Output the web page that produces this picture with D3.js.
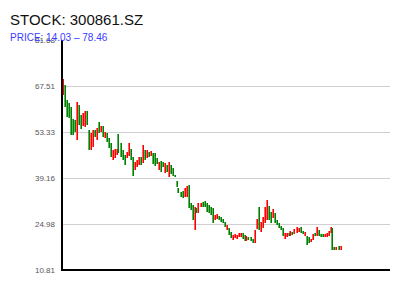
<!DOCTYPE html>
<html>
<head>
<meta charset="utf-8">
<script src="https://cdn.jsdelivr.net/npm/d3@7"></script>
<style>
  body { margin: 0; background: #fff; }
  svg { font-family: "Liberation Sans", Arial, sans-serif; }
</style>
</head>
<body>
<svg id="chart" width="400" height="300"></svg>
<script>
// daily candles (open / close)
var opens = [64.73, 67.81, 63.19, 62.27, 61.04, 57.34, 57.03, 50.87, 61.65, 58.57,
  55.18, 54.87, 59.80, 53.95, 47.79, 48.71, 53.95, 50.87, 56.41, 53.33,
  55.18, 51.48, 53.02, 51.48, 49.94, 44.70, 45.32, 46.24, 52.72, 49.94,
  47.79, 46.24, 45.32, 45.94, 48.09, 45.63, 41.62, 42.55, 43.16, 45.63,
  43.78, 47.79, 45.32, 47.17, 45.94, 46.86, 46.86, 45.32, 41.62, 44.40,
  44.09, 40.70, 43.16, 39.47, 43.16, 42.24, 40.08, 38.23, 36.08, 34.84,
  35.15, 33.30, 33.30, 37.00, 31.45, 30.84, 23.14, 29.91, 28.37, 30.22,
  31.76, 32.07, 31.45, 30.84, 30.22, 29.91, 26.22, 26.52, 27.45, 27.14,
  26.52, 25.60, 23.14, 23.75, 22.52, 20.05, 20.67, 20.36, 20.98, 20.98,
  22.21, 21.60, 19.75, 20.98, 20.98, 20.36, 19.13, 23.44, 30.22, 22.52,
  23.75, 25.29, 26.22, 30.53, 28.68, 26.83, 28.37, 26.22, 25.29, 24.37,
  23.75, 20.36, 20.98, 22.21, 21.29, 22.52, 21.90, 22.21, 22.52, 24.06,
  22.83, 21.29, 21.29, 20.98, 19.44, 20.05, 22.21, 21.29, 23.14, 21.90,
  21.90, 20.98, 20.98, 21.29, 22.21, 23.75, 17.90, 16.97, 18.21, 16.97];
var closes = [69.66, 61.04, 57.95, 57.65, 52.41, 52.41, 53.33, 62.58, 55.49, 54.26,
  59.19, 59.80, 55.49, 47.79, 53.02, 53.95, 51.79, 54.56, 53.02, 55.18,
  51.79, 53.33, 50.25, 48.40, 45.63, 47.79, 48.09, 48.09, 46.86, 45.63,
  44.70, 43.16, 47.17, 49.94, 44.70, 39.77, 44.09, 44.70, 45.63, 43.16,
  49.33, 44.70, 47.79, 45.63, 47.48, 43.47, 42.86, 43.47, 44.09, 41.01,
  42.55, 43.78, 41.01, 44.09, 40.39, 39.77, 39.47, 36.38, 34.54, 33.30,
  32.99, 36.08, 36.69, 29.91, 29.30, 26.22, 30.22, 28.37, 31.45, 31.45,
  30.22, 30.22, 28.68, 28.37, 27.76, 25.29, 27.76, 28.07, 26.22, 25.60,
  25.29, 24.06, 24.68, 21.60, 20.67, 21.60, 21.90, 21.60, 22.21, 22.21,
  20.36, 19.75, 21.29, 20.05, 19.75, 19.13, 23.14, 26.52, 23.14, 25.60,
  27.14, 30.22, 32.38, 26.22, 25.29, 29.61, 25.29, 24.68, 23.75, 23.14,
  21.29, 22.21, 22.21, 21.29, 22.83, 21.60, 23.44, 24.06, 23.75, 22.21,
  21.90, 22.52, 18.51, 19.13, 20.36, 21.90, 21.29, 24.06, 21.29, 20.98,
  20.98, 21.90, 22.21, 22.83, 24.06, 16.97, 16.97, 17.90, 16.97, 18.21];
var priceLow = 14.03, priceHigh = 78.46;
var symbol = "300861.SZ";

var svg = d3.select("#chart");
var margin = { left: 62, right: 10, top: 40, bottom: 30 };
var width = 400, height = 300;

// y domain padded by 5% of the price range
var pad = (priceHigh - priceLow) * 0.05;
var y = d3.scaleLinear()
  .domain([priceLow - pad, priceHigh + pad])
  .range([height - margin.bottom, margin.top]);

// x on trading-day index, axis runs past the last candle
var x = d3.scaleLinear()
  .domain([-0.5, 163.5])
  .range([margin.left, width - margin.right]);

var tickVals = d3.range(6).map(function (i) {
  return y.domain()[0] + i * (y.domain()[1] - y.domain()[0]) / 5;
});

// grid
svg.append("g")
  .selectAll("line")
  .data(tickVals.slice(1, 5))
  .enter().append("line")
  .attr("x1", margin.left)
  .attr("x2", width - margin.right)
  .attr("y1", function (d) { return Math.round(y(d)) + 0.5; })
  .attr("y2", function (d) { return Math.round(y(d)) + 0.5; })
  .attr("stroke", "#cfcfcf")
  .attr("stroke-width", 1);

// y axis labels
var yAxis = d3.axisLeft(y)
  .tickValues(tickVals)
  .tickFormat(d3.format(".2f"))
  .tickSize(0)
  .tickPadding(6);
var gy = svg.append("g")
  .attr("transform", "translate(" + (margin.left - 1) + ",0)")
  .call(yAxis);
gy.select(".domain").remove();
gy.selectAll("text")
  .attr("fill", "#555")
  .style("font-size", "8px")
  .style("font-family", "'Liberation Sans', Arial, sans-serif");

// candle bodies
var candles = opens.map(function (o, i) { return { i: i, open: o, close: closes[i] }; });
svg.append("g")
  .selectAll("rect")
  .data(candles)
  .enter().append("rect")
  .attr("x", function (d) { return Math.floor(x(d.i)) - 0.6; })
  .attr("width", 1.6)
  .attr("y", function (d) { return Math.round(y(Math.max(d.open, d.close))); })
  .attr("height", function (d) {
    return Math.max(1, Math.round(Math.abs(y(d.open) - y(d.close))));
  })
  .attr("fill", function (d) { return d.close >= d.open ? "#ff0000" : "#008000"; });

// axis lines
svg.append("line")
  .attr("x1", margin.left).attr("x2", margin.left)
  .attr("y1", margin.top).attr("y2", height - margin.bottom + 1)
  .attr("stroke", "#000").attr("stroke-width", 2);
svg.append("line")
  .attr("x1", margin.left - 1).attr("x2", width - margin.right)
  .attr("y1", height - margin.bottom).attr("y2", height - margin.bottom)
  .attr("stroke", "#000").attr("stroke-width", 2);

// titles
svg.append("text")
  .attr("x", 10).attr("y", 25)
  .style("font-size", "15px")
  .attr("fill", "#111")
  .text("STOCK: " + symbol);
svg.append("text")
  .attr("x", 10).attr("y", 41)
  .style("font-size", "10px")
  .attr("fill", "#3a3aff")
  .text("PRICE: " + priceLow.toFixed(2) + " \u2013 " + priceHigh.toFixed(2));
</script>
</body>
</html>
